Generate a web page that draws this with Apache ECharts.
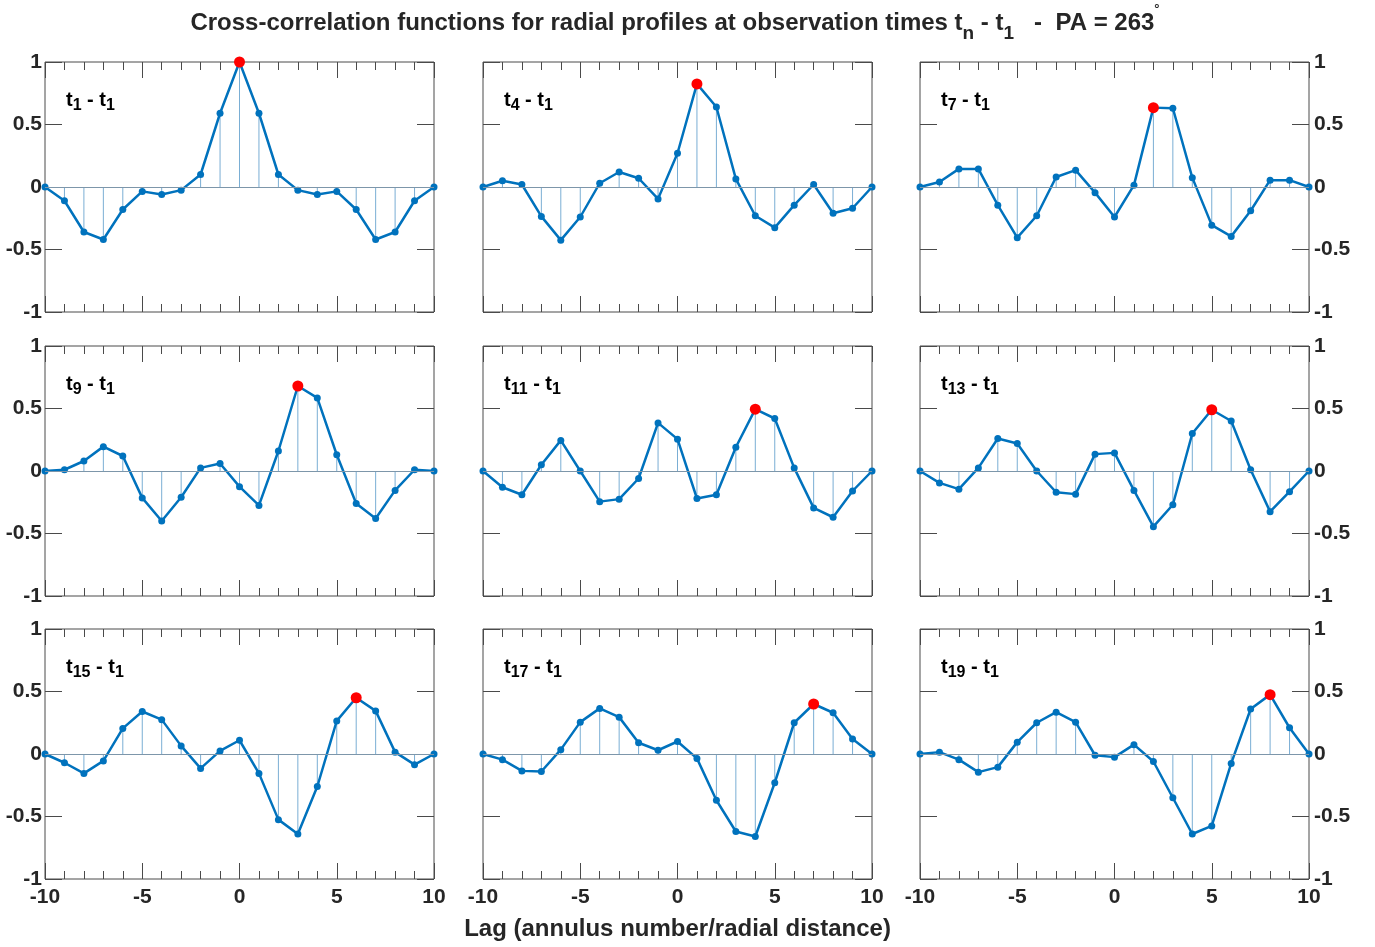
<!DOCTYPE html>
<html>
<head>
<meta charset="utf-8">
<script src="https://cdn.jsdelivr.net/npm/echarts@6/dist/echarts.min.js"></script>
<style>
  html, body { margin: 0; padding: 0; background: #fff; }
  #chart { width: 1375px; height: 947px; }
</style>
</head>
<body>
<div id="chart"></div>
<script>
// Lag axis (annulus number / radial distance)
const lags = [-10, -9, -8, -7, -6, -5, -4, -3, -2, -1, 0, 1, 2, 3, 4, 5, 6, 7, 8, 9, 10];

// Cross-correlation values, one array per observation time t_n - t_1
const cc_t1  = [0, -0.11, -0.36, -0.42, -0.18, -0.035, -0.06, -0.025, 0.10, 0.59, 1.0, 0.59, 0.10, -0.025, -0.06, -0.035, -0.18, -0.42, -0.36, -0.11, 0];
const cc_t4  = [0, 0.05, 0.02, -0.235, -0.425, -0.24, 0.03, 0.12, 0.07, -0.095, 0.27, 0.825, 0.64, 0.065, -0.23, -0.325, -0.145, 0.02, -0.21, -0.17, 0];
const cc_t7  = [0, 0.04, 0.145, 0.145, -0.145, -0.405, -0.23, 0.08, 0.135, -0.045, -0.24, 0.015, 0.635, 0.63, 0.075, -0.305, -0.395, -0.19, 0.055, 0.055, 0];
const cc_t9  = [0, 0.01, 0.08, 0.195, 0.12, -0.215, -0.40, -0.21, 0.025, 0.06, -0.125, -0.275, 0.16, 0.68, 0.585, 0.13, -0.26, -0.38, -0.155, 0.01, 0];
const cc_t11 = [0, -0.13, -0.19, 0.05, 0.245, 0, -0.245, -0.225, -0.06, 0.385, 0.255, -0.22, -0.19, 0.19, 0.495, 0.42, 0.025, -0.295, -0.37, -0.16, 0];
const cc_t13 = [0, -0.095, -0.145, 0.025, 0.26, 0.22, 0, -0.17, -0.185, 0.135, 0.145, -0.155, -0.445, -0.27, 0.30, 0.49, 0.40, 0.01, -0.325, -0.165, 0];
const cc_t15 = [0, -0.07, -0.155, -0.055, 0.205, 0.34, 0.275, 0.065, -0.115, 0.025, 0.11, -0.155, -0.525, -0.64, -0.26, 0.265, 0.45, 0.345, 0.015, -0.085, 0];
const cc_t17 = [0, -0.045, -0.135, -0.14, 0.035, 0.255, 0.365, 0.295, 0.09, 0.03, 0.10, -0.035, -0.37, -0.62, -0.66, -0.23, 0.25, 0.40, 0.33, 0.12, 0];
const cc_t19 = [0, 0.015, -0.045, -0.145, -0.105, 0.095, 0.25, 0.335, 0.255, -0.01, -0.025, 0.075, -0.06, -0.35, -0.64, -0.575, -0.075, 0.36, 0.475, 0.21, 0];

const panelTimes = ['1', '4', '7', '9', '11', '13', '15', '17', '19'];
const panelValues = [cc_t1, cc_t4, cc_t7, cc_t9, cc_t11, cc_t13, cc_t15, cc_t17, cc_t19];

const chart = echarts.init(document.getElementById('chart'));

// Layout
const gridLefts = [45, 483, 920];
const gridTops = [62, 346, 629];
const gridW = 389;
const gridH = 250;

const fontFamily = '"Liberation Sans", Arial, Helvetica, sans-serif';
const frameColor = '#4a4a4a';
const textColor = '#262626';
const lineColor = '#0072BD';
const stemColor = '#7aaed4';
const baseColor = '#7d96aa';
const tickFont = 21;

const grids = [];
const xAxes = [];
const yAxes = [];
const series = [];
const graphics = [];

panelValues.forEach((vals, i) => {
    const col = i % 3;
    const row = Math.floor(i / 3);
    const left = gridLefts[col];
    const top = gridTops[row];

    grids.push({
        left: left, top: top, width: gridW, height: gridH,
        show: true, borderColor: frameColor, borderWidth: 1, backgroundColor: '#fff'
    });

    const xCommon = {
        type: 'value', gridIndex: i, min: -10, max: 10, interval: 5,
        axisLine: { show: false, onZero: false },
        axisTick: { show: true, inside: true, length: 16, lineStyle: { color: frameColor } },
        minorTick: { show: true, splitNumber: 5, length: 8, lineStyle: { color: frameColor } },
        splitLine: { show: false },
        minorSplitLine: { show: false }
    };
    xAxes.push(Object.assign({}, xCommon, {
        position: 'bottom',
        axisLabel: {
            show: row === 2, margin: 8, color: textColor,
            fontSize: tickFont, fontWeight: 'bold', fontFamily: fontFamily
        }
    }));
    xAxes.push(Object.assign({}, xCommon, {
        position: 'top',
        axisLabel: { show: false }
    }));

    const yCommon = {
        type: 'value', gridIndex: i, min: -1, max: 1, interval: 0.5,
        axisLine: { show: false, onZero: false },
        axisTick: { show: true, inside: true, length: 17, lineStyle: { color: frameColor } },
        splitLine: { show: false }
    };
    yAxes.push(Object.assign({}, yCommon, {
        position: 'left',
        axisLabel: {
            show: col === 0, margin: 3, color: textColor,
            fontSize: tickFont, fontWeight: 'bold', fontFamily: fontFamily
        }
    }));
    yAxes.push(Object.assign({}, yCommon, {
        position: 'right',
        axisLabel: {
            show: col === 2, margin: 5, color: textColor,
            fontSize: tickFont, fontWeight: 'bold', fontFamily: fontFamily
        }
    }));

    const pts = lags.map((l, k) => [l, vals[k]]);

    // find the peak of the cross-correlation
    let peak = 0;
    vals.forEach((v, k) => { if (v > vals[peak]) peak = k; });

    // stems + baseline
    series.push({
        type: 'custom',
        xAxisIndex: 2 * i, yAxisIndex: 2 * i,
        data: pts,
        encode: { x: 0, y: 1 },
        z: 1,
        silent: true,
        renderItem: function (params, api) {
            const p0 = api.coord([api.value(0), 0]);
            const p1 = api.coord([api.value(0), api.value(1)]);
            return {
                type: 'line',
                shape: { x1: p0[0], y1: p0[1], x2: p1[0], y2: p1[1] },
                style: { stroke: stemColor, lineWidth: 1 }
            };
        },
        markLine: {
            silent: true, symbol: 'none', label: { show: false },
            lineStyle: { color: baseColor, width: 1, type: 'solid' },
            data: [{ yAxis: 0 }],
            animation: false
        }
    });

    series.push({
        type: 'line',
        xAxisIndex: 2 * i, yAxisIndex: 2 * i,
        data: pts,
        z: 3,
        symbol: 'circle',
        symbolSize: 7,
        showAllSymbol: true,
        lineStyle: { color: lineColor, width: 2.5 },
        itemStyle: { color: lineColor }
    });

    series.push({
        type: 'scatter',
        xAxisIndex: 2 * i, yAxisIndex: 2 * i,
        data: [pts[peak]],
        z: 4,
        symbolSize: 11,
        itemStyle: { color: '#ff0000', opacity: 1 }
    });

    // panel label  t_n - t_1
    graphics.push({
        type: 'text',
        x: left + 21, y: top + 38,
        style: {
            text: '{m|t}{s|' + panelTimes[i] + '}{m| - t}{s|1}',
            verticalAlign: 'middle',
            rich: {
                m: { fontSize: 20, fontWeight: 'bold', fontFamily: fontFamily, fill: '#000' },
                s: { fontSize: 16, fontWeight: 'bold', fontFamily: fontFamily, fill: '#000', padding: [12, 0, 0, 0] }
            }
        }
    });
});

// main title
graphics.push({
    type: 'text',
    x: 675, y: 23,
    style: {
        text: '{m|Cross-correlation functions for radial profiles at observation times t}{s|n}{m| - t}{s|1}{m|   -  PA = 263}{d|°}',
        align: 'center',
        verticalAlign: 'middle',
        rich: {
            m: { fontSize: 24, fontWeight: 'bold', fontFamily: fontFamily, fill: textColor },
            s: { fontSize: 19, fontWeight: 'bold', fontFamily: fontFamily, fill: textColor, padding: [22, 0, 0, 0] },
            d: { fontSize: 13, fontWeight: 'bold', fontFamily: fontFamily, fill: textColor, padding: [0, 0, 28, 0] }
        }
    }
});

// x-axis title below the middle column
graphics.push({
    type: 'text',
    x: gridLefts[1] + gridW / 2, y: 929,
    style: {
        text: 'Lag (annulus number/radial distance)',
        align: 'center',
        verticalAlign: 'middle',
        fontSize: 24, fontWeight: 'bold', fontFamily: fontFamily, fill: textColor
    }
});

chart.setOption({
    backgroundColor: '#ffffff',
    animation: false,
    grid: grids,
    xAxis: xAxes,
    yAxis: yAxes,
    series: series,
    graphic: graphics
});
</script>
</body>
</html>
